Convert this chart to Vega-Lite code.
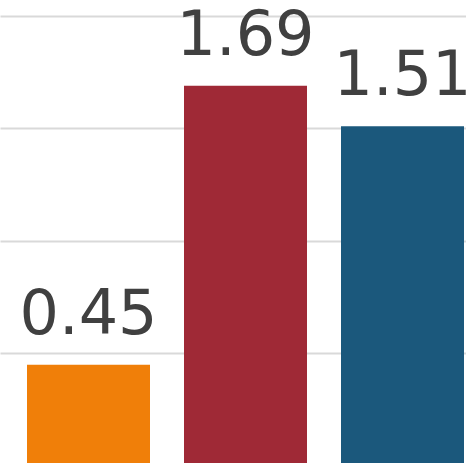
{
  "$schema": "https://vega.github.io/schema/vega-lite/v6.json",
  "width": 491,
  "height": 463,
  "padding": 0,
  "autosize": {"type": "none"},
  "background": "white",
  "config": {"view": {"stroke": null}},
  "data": {"values": [
    {"cat": "A", "value": 0.45, "color": "#F07F09"},
    {"cat": "B", "value": 1.69, "color": "#9F2936"},
    {"cat": "C", "value": 1.51, "color": "#1B587C"}
  ]},
  "encoding": {
    "x": {"field": "cat", "type": "nominal", "sort": null,
      "scale": {"paddingInner": 0.2166, "paddingOuter": 0.172},
      "axis": null},
    "y": {"field": "value", "type": "quantitative",
      "scale": {"domain": [0.0133, 2.071], "nice": false, "zero": false},
      "axis": {"values": [0.5, 1.0, 1.5, 2.0], "labels": false, "ticks": false, "domain": false, "title": null, "grid": true, "gridColor": "#d9d9d9", "gridWidth": 2}}
  },
  "layer": [
    {"mark": {"type": "bar", "clip": true},
     "encoding": {"color": {"field": "color", "type": "nominal", "scale": null}}},
    {"mark": {"type": "text", "baseline": "alphabetic", "dy": -31, "font": "DejaVu Sans", "fontSize": 62, "color": "#404040"},
     "encoding": {"text": {"field": "value", "type": "quantitative", "format": ".2f"}}}
  ]
}
